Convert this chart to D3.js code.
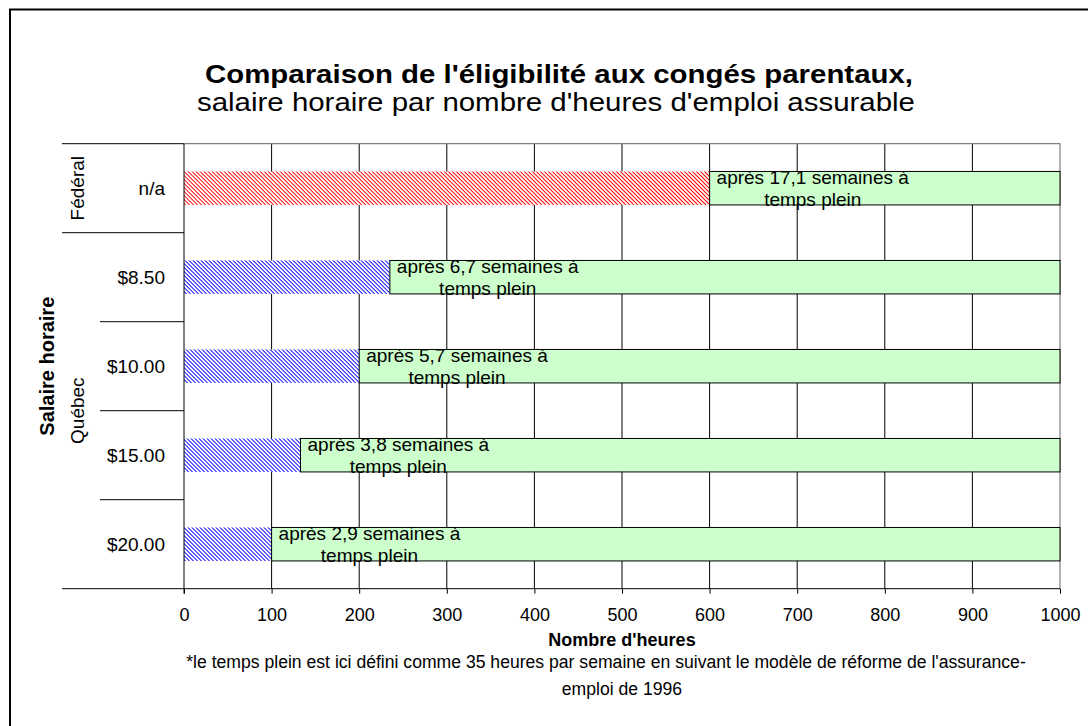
<!DOCTYPE html>
<html>
<head>
<meta charset="utf-8">
<script src="https://cdn.jsdelivr.net/npm/d3@7"></script>
<style>
  body { margin: 0; background: #fff; }
  text { font-family: "Liberation Sans", Arial, sans-serif; fill: #000; }
</style>
</head>
<body>
<div id="chart"></div>
<script>
// données
var categories = ["n/a", "$8.50", "$10.00", "$15.00", "$20.00"];
var groupOf = ["Fédéral", "Québec", "Québec", "Québec", "Québec"];
var groups = ["Fédéral", "Québec"];
var hoursNeeded = [600, 235, 200, 133, 100];
var hoursMax = [1000, 1000, 1000, 1000, 1000];
var weeksFull = ["17,1", "6,7", "5,7", "3,8", "2,9"];
var xTicks = [0, 100, 200, 300, 400, 500, 600, 700, 800, 900, 1000];

var width = 1088, height = 726;
var startX = 184, endX = 1060;
var startY = 143.7, endY = 588.7;

var svg = d3.select("#chart").append("svg").attr("width", width).attr("height", height);

var xScale = d3.scaleLinear().domain([0, 1000]).range([startX, endX]);
var yScale = d3.scaleBand().domain(categories).range([startY, endY]).paddingInner(0.624).paddingOuter(0.312);
var step = yScale.step();

// motifs hachurés
var defs = svg.append("defs");
function hatch(id, color) {
  var p = defs.append("pattern").attr("id", id).attr("patternUnits", "userSpaceOnUse")
    .attr("width", 2.83).attr("height", 2.83).attr("patternTransform", "rotate(-45)");
  p.append("rect").attr("width", 2.83).attr("height", 2.83).attr("fill", "#fff");
  p.append("rect").attr("x", 0).attr("y", 0).attr("width", 0.95).attr("height", 2.83).attr("fill", color);
}
hatch("hRed", "#ff0000");
hatch("hBlue", "#0000ff");

// cadre
svg.append("rect").attr("x", 10).attr("y", 9.5).attr("width", 1200).attr("height", 900)
  .attr("fill", "none").attr("stroke", "#000").attr("stroke-width", 2);

// titre
svg.append("text").text("Comparaison de l'éligibilité aux congés parentaux,")
  .attr("x", 559).attr("y", 83).attr("text-anchor", "middle").attr("font-size", 25).attr("font-weight", "bold")
  .attr("textLength", 708).attr("lengthAdjust", "spacingAndGlyphs");
svg.append("text").text("salaire horaire par nombre d'heures d'emploi assurable")
  .attr("x", 556).attr("y", 111).attr("text-anchor", "middle").attr("font-size", 25)
  .attr("textLength", 718).attr("lengthAdjust", "spacingAndGlyphs");

// lignes verticales
svg.selectAll(".grid").data(xTicks.filter(function (d) { return d > 0 && d < 1000; })).enter().append("line")
  .attr("x1", xScale).attr("x2", xScale).attr("y1", startY).attr("y2", endY)
  .attr("stroke", "#000").attr("stroke-width", 1);
// bord de la zone
svg.append("path").attr("d", "M" + startX + "," + startY + "H" + endX + "V" + endY)
  .attr("fill", "none").attr("stroke", "#808080").attr("stroke-width", 1.2);

// barres hachurées
svg.selectAll(".hbar").data(categories).enter().append("rect")
  .attr("x", xScale(0)).attr("y", function (d) { return yScale(d); })
  .attr("width", function (d, i) { return xScale(hoursNeeded[i]) - xScale(0); })
  .attr("height", yScale.bandwidth())
  .attr("fill", function (d, i) { return groupOf[i] == "Fédéral" ? "url(#hRed)" : "url(#hBlue)"; });

// barres vertes
svg.selectAll(".gbar").data(categories).enter().append("rect")
  .attr("x", function (d, i) { return xScale(hoursNeeded[i]); }).attr("y", function (d) { return yScale(d); })
  .attr("width", function (d, i) { return xScale(hoursMax[i]) - xScale(hoursNeeded[i]); })
  .attr("height", yScale.bandwidth())
  .attr("fill", "#ccffcc").attr("stroke", "#000").attr("stroke-width", 1);

// étiquettes des barres
categories.forEach(function (c, i) {
  var x0 = xScale(hoursNeeded[i]) + 7, y0 = yScale(c);
  var t1 = svg.append("text").text("après " + weeksFull[i] + " semaines à")
    .attr("x", x0).attr("y", y0 + 12.5).attr("font-size", 19);
  var w = t1.node().getComputedTextLength();
  svg.append("text").text("temps plein")
    .attr("x", x0 + w / 2).attr("y", y0 + 34.5).attr("text-anchor", "middle").attr("font-size", 19);
});

// axe x
var xAxis = svg.append("g").attr("transform", "translate(0," + endY + ")")
  .call(d3.axisBottom(xScale).tickValues(xTicks).tickFormat(d3.format("d")).tickSize(5));
xAxis.select(".domain").attr("stroke", "#000").attr("d", "M" + startX + ",0H" + endX);
xAxis.selectAll("line").attr("stroke", "#000");
xAxis.selectAll("text").attr("font-size", 18).attr("font-family", "Liberation Sans, Arial, sans-serif").attr("fill", "#000")
  .attr("y", 32.5).attr("dy", 0);

// lignes autour des catégories
svg.append("line").attr("x1", 62).attr("x2", startX).attr("y1", endY).attr("y2", endY).attr("stroke", "#000");
svg.append("line").attr("x1", 62).attr("x2", startX).attr("y1", startY).attr("y2", startY).attr("stroke", "#000");
svg.append("line").attr("x1", startX).attr("x2", startX).attr("y1", startY).attr("y2", endY + 5).attr("stroke", "#000");

// séparateurs des catégories
svg.selectAll(".sep").data(categories.slice(1)).enter().append("line")
  .attr("x1", function (d, i) { return groupOf[i + 1] != groupOf[i] ? 62 : 100; })
  .attr("x2", startX)
  .attr("y1", function (d) { return yScale(d) - (step - yScale.bandwidth()) / 2; })
  .attr("y2", function (d) { return yScale(d) - (step - yScale.bandwidth()) / 2; })
  .attr("stroke", "#000");

// noms des catégories
svg.selectAll(".cat").data(categories).enter().append("text").text(function (d) { return d; })
  .attr("x", 165).attr("y", function (d) { return yScale(d) + yScale.bandwidth() / 2; })
  .attr("dy", "0.35em").attr("text-anchor", "end").attr("font-size", 19);

// noms des groupes
groups.forEach(function (g) {
  var rows = categories.filter(function (c, i) { return groupOf[i] == g; });
  var y0 = yScale(rows[0]) - (step - yScale.bandwidth()) / 2;
  var y1 = y0 + rows.length * step;
  svg.append("text").text(g).attr("transform", "translate(77," + (y0 + y1) / 2 + ") rotate(-90)")
    .attr("text-anchor", "middle").attr("dy", "0.35em").attr("font-size", 19);
});

// titres des axes
svg.append("text").text("Salaire horaire").attr("transform", "translate(46.5," + (startY + endY) / 2 + ") rotate(-90)")
  .attr("text-anchor", "middle").attr("dy", "0.35em").attr("font-size", 20).attr("font-weight", "bold");
svg.append("text").text("Nombre d'heures").attr("x", (startX + endX) / 2).attr("y", 646)
  .attr("text-anchor", "middle").attr("font-size", 18).attr("font-weight", "bold");

// note
svg.append("text").text("*le temps plein est ici défini comme 35 heures par semaine en suivant le modèle de réforme de l'assurance-")
  .attr("x", 606).attr("y", 668).attr("text-anchor", "middle").attr("font-size", 17.6);
svg.append("text").text("emploi de 1996")
  .attr("x", (startX + endX) / 2).attr("y", 695).attr("text-anchor", "middle").attr("font-size", 17.6);
</script>
</body>
</html>
